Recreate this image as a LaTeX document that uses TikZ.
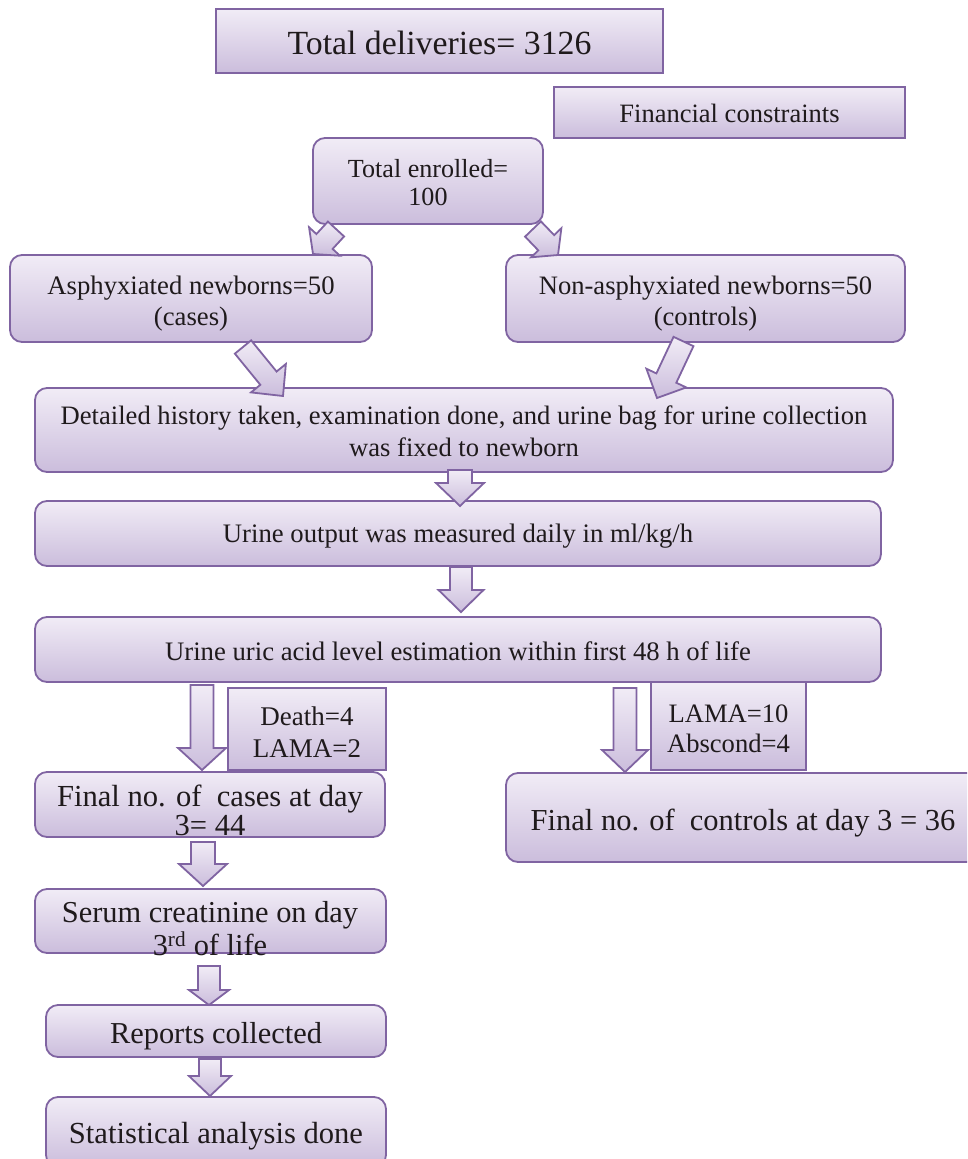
\documentclass[tikz,border=0pt]{standalone}
\usepackage{fontspec}
\setmainfont{Liberation Serif}
\usetikzlibrary{calc}
\definecolor{bordr}{HTML}{8064A2}
\definecolor{ftop}{HTML}{F1ECF6}
\definecolor{fbot}{HTML}{CBBDDC}
\definecolor{txt}{HTML}{1F1A1C}
\tikzset{
  box/.style={draw=bordr, line width=1.8pt, top color=ftop, bottom color=fbot,
    inner sep=0pt, align=center, text=txt},
  rbox/.style={box, rounded corners=12pt},
  plain/.style={inner sep=0pt, align=center, text=txt},
  barrowstyle/.style={draw=bordr, line width=1.8pt, top color=ftop, bottom color=fbot, line join=miter},
}
\newcommand{\fs}[2]{\fontsize{#1}{#2}\selectfont}
% lower a one-line text by #1 pt without changing the node size
\newcommand{\dn}[2]{\raisebox{-#1pt}[\height][\depth]{#2}}
% lower a multi-line text by #1 pt
\newcommand{\dnm}[2]{\raisebox{-#1pt}[\height][\depth]{\begin{tabular}{@{}c@{}}#2\end{tabular}}}
% #1 tail, #2 tip, #3 shaft half width, #4 head half width, #5 head length
\newcommand{\barrow}[5]{%
  \coordinate (bN) at ($(#2)!#5pt!(#1)$);
  \draw[barrowstyle] ($(#1)!#3pt!90:(#2)$) -- ($(bN)!#3pt!90:(#2)$) -- ($(bN)!#4pt!90:(#2)$)
     -- (#2) -- ($(bN)!#4pt!-90:(#2)$) -- ($(bN)!#3pt!-90:(#2)$) -- ($(#1)!#3pt!-90:(#2)$) -- cycle;
}
\begin{document}
\begin{tikzpicture}[x=1pt,y=-1pt]
\useasboundingbox (0,0) rectangle (967,1159);
\clip (0,0) rectangle (967,1159);
\fill[white] (0,0) rectangle (967,1159);

% boxes
\node[box, minimum width=447pt, minimum height=64pt, font=\fs{33.8}{40}] (tot) at (439.5,41) {\dn{2}{Total deliveries= 3126}};
\node[box, minimum width=351pt, minimum height=51pt, font=\fs{26.5}{31}] (fin) at (729.5,112.5) {\dn{1}{Financial constraints}};
\node[rbox, minimum width=230pt, minimum height=86pt, font=\fs{26.1}{28}] (enr) at (428,181) {\dnm{5}{Total enrolled=\\100}};
\node[rbox, minimum width=362pt, minimum height=87pt, font=\fs{26.7}{31}] (asph) at (191,298.5) {\dnm{5.5}{Asphyxiated newborns=50\\(cases)}};
\node[rbox, minimum width=399pt, minimum height=87pt, font=\fs{26.6}{31}] (non) at (705.5,298.5) {\dnm{5.5}{Non-asphyxiated newborns=50\\(controls)}};
\node[rbox, minimum width=858pt, minimum height=84pt, font=\fs{26.6}{32}] (det) at (464,430) {\dnm{4}{Detailed history taken, examination done, and urine bag for urine collection\\was fixed to newborn}};
\node[rbox, minimum width=846pt, minimum height=65pt, font=\fs{26.7}{31}] (uo) at (458,533.5) {\dn{3}{Urine output was measured daily in ml/kg/h}};
\node[rbox, minimum width=846pt, minimum height=65pt, font=\fs{26.7}{31}] (uric) at (458,649.5) {\dn{2}{Urine uric acid level estimation within first 48 h of life}};
\node[box, minimum width=158pt, minimum height=82pt, font=\fs{27}{32}] (death) at (307,729) {\dnm{6}{Death=4\\LAMA=2}};
\node[box, minimum width=155pt, minimum height=88pt, font=\fs{26.6}{30}] (lama) at (728.5,726) {\dnm{5}{LAMA=10\\Abscond=4}};
\node[rbox, minimum width=350pt, minimum height=65pt, font=\fs{30.6}{28}] (fcase) at (210,804.5) {\dnm{10}{Final no. of~ cases at day\\3= 44}};
\node[rbox, minimum width=474pt, minimum height=89pt, font=\fs{30.5}{34}] (fctrl) at (743,817.5) {\dn{6}{Final no. of~ controls at day 3 = 36}};
\node[rbox, minimum width=351pt, minimum height=64pt] (serum) at (210.5,921) {};
\node[plain, font=\fs{30.4}{33}] (serumtxt) at (210,928.5) {Serum creatinine on day\\3\textsuperscript{rd} of life};
\node[rbox, minimum width=340pt, minimum height=52pt, font=\fs{30.4}{34}] (rep) at (216,1031) {\dn{5}{Reports collected}};
\node[rbox, minimum width=340pt, minimum height=70pt, font=\fs{30.6}{34}] (stat) at (216,1132) {\dn{4}{Statistical analysis done}};

% connector end points
\coordinate (a1t) at (336,229);   \coordinate (a1h) at (313,254);
\coordinate (a2t) at (533,229);   \coordinate (a2h) at (558,255);
\coordinate (a3t) at (243,347);   \coordinate (a3h) at (283,396);
\coordinate (a4t) at (683.5,341.5); \coordinate (a4h) at (657,398);
\coordinate (a5t) at (460,470);   \coordinate (a5h) at (460,506);
\coordinate (a6t) at (461,567);   \coordinate (a6h) at (461,612);
\coordinate (a7t) at (202,685);   \coordinate (a7h) at (202,770);
\coordinate (a8t) at (625,688);   \coordinate (a8h) at (625,772);
\coordinate (a9t) at (203,842);   \coordinate (a9h) at (203,886);
\coordinate (a10t) at (209,966);  \coordinate (a10h) at (209,1005);
\coordinate (a11t) at (210,1059); \coordinate (a11h) at (210,1096);

\barrow{a1t}{a1h}{11}{21}{17}
\barrow{a2t}{a2h}{11}{21}{17}
\barrow{a3t}{a3h}{10.5}{22.5}{23}
\barrow{a4t}{a4h}{11}{22}{22}
\barrow{a5t}{a5h}{12}{24}{23}
\barrow{a6t}{a6h}{11}{22.5}{22}
\barrow{a7t}{a7h}{11.5}{24}{22}
\barrow{a8t}{a8h}{11.5}{23}{22}
\barrow{a9t}{a9h}{12}{24}{22}
\barrow{a10t}{a10h}{11}{20}{15}
\barrow{a11t}{a11h}{11}{21}{20}
\end{tikzpicture}
\end{document}
